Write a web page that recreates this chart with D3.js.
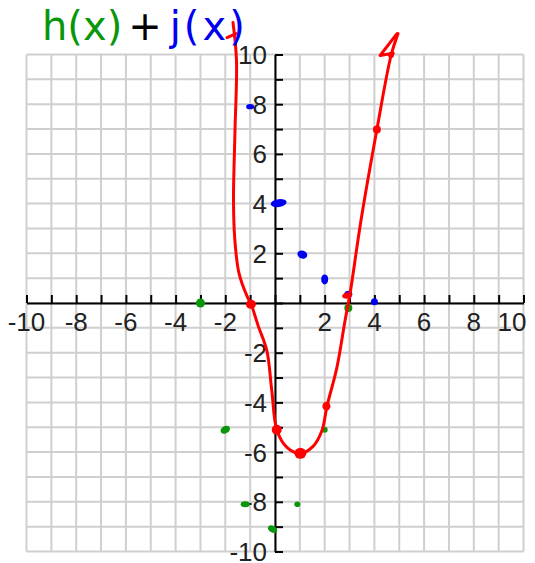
<!DOCTYPE html>
<html>
<head>
<meta charset="utf-8">
<script src="https://cdn.jsdelivr.net/npm/d3@7/dist/d3.min.js"></script>
<style>
  html, body { margin: 0; padding: 0; background: #fff; }
  svg { display: block; }
</style>
</head>
<body>
<svg id="chart" width="535" height="563"></svg>
<script>
// Axis range and tick labels
const domainX = [-10, 10];
const domainY = [-10, 10];
const xTickLabels = [-10, -8, -6, -4, -2, 2, 4, 6, 8, 10];
const yTickLabels = [10, 8, 6, 4, 2, -2, -4, -6, -8, -10];

// Plotted points of h(x) (green) and j(x) (blue)
const hPoints = [[-3, 0], [-2, -5.1], [-1.2, -8.1], [-0.1, -9.1], [0.9, -8.1], [2, -5.1], [2.95, -0.2]];
const jPoints = [[-1, 7.9], [0.15, 4.02], [1.1, 1.95], [2, 0.95], [2.95, 0.35], [4, 0.05]];

// Points of the sum h(x) + j(x) (red) and the sketched curve through them
const sumPoints = [[-0.97, -0.05], [0.07, -5.1], [1.02, -6.05], [2.07, -4.15], [2.9, 0.3], [4.1, 6.98], [4.67, 9.98]];
const sumCurve = [
  [-1.69, 11.29], [-1.55, 9.76], [-1.61, 6.94], [-1.67, 4.12], [-1.62, 2.6],
  [-1.45, 1.2], [-1.1, 0.22], [-0.97, -0.02], [-0.68, -0.91], [-0.33, -1.91],
  [-0.13, -3.52], [0.08, -5.13], [0.48, -5.81], [1.01, -6.06], [1.53, -5.77],
  [1.89, -5.13], [2.09, -4.16], [2.49, -2.6], [2.82, -0.7], [3.02, 0.38],
  [3.46, 3.32], [4.1, 6.98], [4.67, 9.96], [4.95, 10.84]
];
const arrowRight = [[4.9, 10.83], [4.23, 9.96], [4.76, 10.05]];
const arrowLeft = [[-1.93, 10.68], [-1.57, 10.84]];

// Mark shapes (rx, ry, rotation) for each plotted point
const hShapes = [[4.5, 4.5, 0], [5, 3.6, -30], [4.5, 3, 0], [5, 3.4, 30], [3, 2.8, 0], [3, 3, 0], [4, 4, 0]];
const jShapes = [[4, 2.6, 0], [8, 4, -8], [5, 4, 20], [3.5, 5, 0], [4, 3.5, 0], [3.5, 3.5, 0]];
const sumShapes = [[5, 4.5, 0], [5, 5, 0], [6, 5.5, 0], [4, 4.5, 0], [5, 3, -10], [4, 4, 0], [3, 3, 0]];

const svg = d3.select("#chart");
const x = d3.scaleLinear().domain(domainX).range([26.5, 523.5]);
const y = d3.scaleLinear().domain(domainY).range([551.5, 54.5]);

const gridColor = "#cfcfcf";
const gridValues = d3.range(domainX[0], domainX[1] + 1);

// grid
const grid = svg.append("g");
grid.selectAll("line.v").data(gridValues).join("line")
  .attr("x1", d => x(d)).attr("x2", d => x(d))
  .attr("y1", y(domainY[1])).attr("y2", y(domainY[0]))
  .attr("stroke", gridColor).attr("stroke-width", 2);
grid.selectAll("line.h").data(d3.range(domainY[0], domainY[1] + 1)).join("line")
  .attr("y1", d => y(d)).attr("y2", d => y(d))
  .attr("x1", x(domainX[0])).attr("x2", x(domainX[1]))
  .attr("stroke", gridColor).attr("stroke-width", 2);

// axes
const xAxis = d3.axisTop(x).tickValues(gridValues).tickSize(8).tickSizeOuter(0).tickFormat("");
const yAxis = d3.axisRight(y).tickValues(d3.range(domainY[0], domainY[1] + 1)).tickSize(8).tickSizeOuter(0).tickFormat("");
const gx = svg.append("g").attr("transform", `translate(0,${y(0)})`).call(xAxis);
const gy = svg.append("g").attr("transform", `translate(${x(0)},0)`).call(yAxis);
[gx, gy].forEach(g => {
  g.select(".domain").attr("stroke", "#000").attr("stroke-width", 2);
  g.selectAll(".tick line").attr("stroke", "#000").attr("stroke-width", 2);
});

// tick labels
const labelFont = "'Liberation Sans', Arial, sans-serif";
svg.append("g").selectAll("text").data(xTickLabels).join("text")
  .attr("x", d => d === domainX[1] ? x(d) + 3 : x(d))
  .attr("y", y(0) + 28)
  .attr("text-anchor", d => d === domainX[1] ? "end" : "middle")
  .attr("font-family", labelFont).attr("font-size", 26).attr("fill", "#222")
  .text(d => d);
svg.append("g").selectAll("text").data(yTickLabels).join("text")
  .attr("x", x(0) - 8)
  .attr("y", d => y(d) + 9.5)
  .attr("text-anchor", "end")
  .attr("font-family", labelFont).attr("font-size", 26).attr("fill", "#222")
  .text(d => d);

// marks
function drawMarks(points, shapes, color) {
  svg.append("g").selectAll("ellipse").data(points).join("ellipse")
    .attr("transform", (d, i) => `translate(${x(d[0])},${y(d[1])}) rotate(${shapes[i][2]})`)
    .attr("rx", (d, i) => shapes[i][0]).attr("ry", (d, i) => shapes[i][1])
    .attr("fill", color);
}
drawMarks(hPoints, hShapes, "#0a960a");
drawMarks(jPoints, jShapes, "#0000f0");

// sketched sum curve
const line = d3.line().x(d => x(d[0])).y(d => y(d[1])).curve(d3.curveCatmullRom.alpha(0.5));
svg.append("path").datum(sumCurve).attr("d", line)
  .attr("fill", "none").attr("stroke", "#ff0000").attr("stroke-width", 3)
  .attr("stroke-linecap", "round").attr("stroke-linejoin", "round");
const poly = d3.line().x(d => x(d[0])).y(d => y(d[1]));
[arrowRight, arrowLeft].forEach(a => svg.append("path").datum(a).attr("d", poly)
  .attr("fill", "none").attr("stroke", "#ff0000").attr("stroke-width", 3)
  .attr("stroke-linecap", "round").attr("stroke-linejoin", "round"));
drawMarks(sumPoints, sumShapes, "#ff0000");

// title
const title = svg.append("text").attr("x", 42).attr("y", 40)
  .attr("font-family", "'DejaVu Sans', sans-serif").attr("font-size", 40);
title.append("tspan").attr("fill", "#0a960a").text("h(x)");
title.append("tspan").attr("fill", "#000").attr("dx", 6).text("+");
title.append("tspan").attr("fill", "#0000f0").attr("dx", 8).attr("letter-spacing", 3).text("j(x)");
</script>
</body>
</html>
